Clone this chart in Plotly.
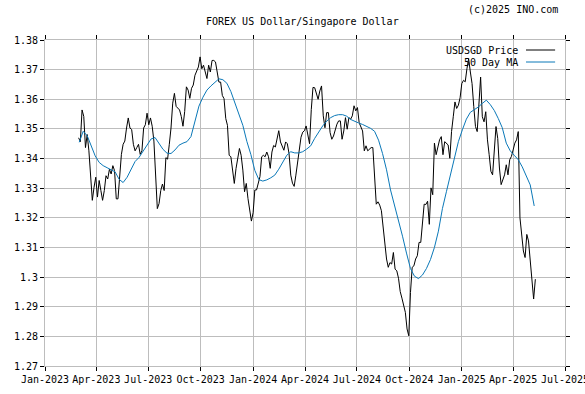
import pandas as pd
import plotly.graph_objects as go

# ---- data ----
price_start = "2023-03-01"   # one value every 3 days
price_values = [
    1.3470, 1.3457, 1.3564, 1.3542, 1.3437, 1.3481, 1.3426, 1.3348, 1.3259, 1.3303,
    1.3337, 1.3270, 1.3326, 1.3292, 1.3259, 1.3292, 1.3342, 1.3331, 1.3364, 1.3348,
    1.3376, 1.3359, 1.3264, 1.3264, 1.3337, 1.3414, 1.3448, 1.3459, 1.3503, 1.3537,
    1.3503, 1.3498, 1.3448, 1.3426, 1.3437, 1.3448, 1.3414, 1.3426, 1.3503, 1.3514,
    1.3553, 1.3514, 1.3537, 1.3509, 1.3459, 1.3359, 1.3231, 1.3248, 1.3292, 1.3314,
    1.3292, 1.3403, 1.3398, 1.3448, 1.3503, 1.3587, 1.3620, 1.3576, 1.3570, 1.3564,
    1.3542, 1.3509, 1.3559, 1.3642, 1.3631, 1.3603, 1.3637, 1.3648, 1.3681, 1.3698,
    1.3709, 1.3743, 1.3703, 1.3715, 1.3687, 1.3670, 1.3715, 1.3692, 1.3731, 1.3731,
    1.3726, 1.3687, 1.3658, 1.3658, 1.3613, 1.3602, 1.3535, 1.3512, 1.3411, 1.3406,
    1.3366, 1.3316, 1.3366, 1.3394, 1.3434, 1.3411, 1.3361, 1.3288, 1.3316, 1.3265,
    1.3231, 1.3189, 1.3217, 1.3294, 1.3294, 1.3317, 1.3339, 1.3406, 1.3411, 1.3406,
    1.3422, 1.3406, 1.3367, 1.3422, 1.3444, 1.3439, 1.3467, 1.3494, 1.3456, 1.3444,
    1.3428, 1.3456, 1.3450, 1.3417, 1.3344, 1.3317, 1.3306, 1.3344, 1.3394, 1.3433,
    1.3472, 1.3489, 1.3494, 1.3510, 1.3480, 1.3450, 1.3565, 1.3640, 1.3639, 1.3617,
    1.3600, 1.3628, 1.3645, 1.3544, 1.3504, 1.3555, 1.3555, 1.3488, 1.3465, 1.3476,
    1.3499, 1.3516, 1.3527, 1.3527, 1.3465, 1.3493, 1.3538, 1.3499, 1.3538, 1.3533,
    1.3544, 1.3578, 1.3561, 1.3572, 1.3521, 1.3504, 1.3493, 1.3426, 1.3443, 1.3426,
    1.3431, 1.3437, 1.3437, 1.3358, 1.3246, 1.3254, 1.3243, 1.3224, 1.3173, 1.3111,
    1.3061, 1.3033, 1.3049, 1.3044, 1.3083, 1.3027, 1.3021, 1.2996, 1.2951, 1.2929,
    1.2903, 1.2881, 1.2825, 1.2802, 1.2948, 1.3033, 1.3038, 1.3061, 1.3072, 1.3117,
    1.3117, 1.3190, 1.3246, 1.3245, 1.3256, 1.3178, 1.3301, 1.3278, 1.3452, 1.3413,
    1.3435, 1.3463, 1.3474, 1.3413, 1.3457, 1.3452, 1.3446, 1.3401, 1.3491, 1.3541,
    1.3591, 1.3569, 1.3580, 1.3605, 1.3653, 1.3664, 1.3659, 1.3703, 1.3737, 1.3692,
    1.3653, 1.3575, 1.3508, 1.3491, 1.3575, 1.3675, 1.3541, 1.3524, 1.3558, 1.3463,
    1.3413, 1.3357, 1.3345, 1.3440, 1.3508, 1.3468, 1.3368, 1.3312, 1.3329, 1.3345,
    1.3379, 1.3345, 1.3396, 1.3407, 1.3429, 1.3452, 1.3463, 1.3491, 1.3200, 1.3138,
    1.3088, 1.3066, 1.3144, 1.3122, 1.3055, 1.2982, 1.2926, 1.2993,
]

ma_start = "2023-03-02"      # one value every 7 days
ma_values = [
    1.3455, 1.3492, 1.3477, 1.3445, 1.3409, 1.3387, 1.3376, 1.3369, 1.3361, 1.3355,
    1.3330, 1.3319, 1.3337, 1.3364, 1.3390, 1.3404, 1.3425, 1.3445, 1.3466, 1.3471,
    1.3451, 1.3431, 1.3418, 1.3417, 1.3429, 1.3445, 1.3452, 1.3457, 1.3474, 1.3522,
    1.3577, 1.3607, 1.3631, 1.3645, 1.3658, 1.3669, 1.3666, 1.3654, 1.3626, 1.3590,
    1.3553, 1.3512, 1.3458, 1.3414, 1.3360, 1.3329, 1.3324, 1.3328, 1.3335, 1.3344,
    1.3364, 1.3387, 1.3411, 1.3423, 1.3419, 1.3419, 1.3423, 1.3432, 1.3443, 1.3468,
    1.3490, 1.3510, 1.3526, 1.3538, 1.3545, 1.3548, 1.3548, 1.3543, 1.3532, 1.3525,
    1.3520, 1.3515, 1.3509, 1.3502, 1.3492, 1.3462, 1.3417, 1.3362, 1.3294, 1.3243,
    1.3198, 1.3138, 1.3081, 1.3029, 1.3003, 1.2995, 1.3007, 1.3029, 1.3059, 1.3100,
    1.3155, 1.3231, 1.3288, 1.3345, 1.3410, 1.3457, 1.3497, 1.3533, 1.3556, 1.3565,
    1.3574, 1.3586, 1.3597, 1.3582, 1.3562, 1.3535, 1.3504, 1.3452, 1.3426, 1.3411,
    1.3396, 1.3372, 1.3342, 1.3311, 1.3240,
]

x_tick_dates = ["2023-01-01", "2023-04-01", "2023-07-01", "2023-10-01", "2024-01-01",
                "2024-04-01", "2024-07-01", "2024-10-01", "2025-01-01", "2025-04-01",
                "2025-07-01"]
x_tick_labels = ["Jan-2023", "Apr-2023", "Jul-2023", "Oct-2023", "Jan-2024", "Apr-2024",
                 "Jul-2024", "Oct-2024", "Jan-2025", "Apr-2025", "Jul-2025"]
y_tick_values = [1.27, 1.28, 1.29, 1.30, 1.31, 1.32, 1.33, 1.34, 1.35, 1.36, 1.37, 1.38]
y_tick_labels = ["1.27", "1.28", "1.29", "1.3", "1.31", "1.32", "1.33", "1.34", "1.35",
                 "1.36", "1.37", "1.38"]

series_names = ["USDSGD Price", "50 Day MA"]
series_colors = ["#000000", "#0a78b8"]

price_dates = pd.date_range(price_start, periods=len(price_values), freq="3D")
ma_dates = pd.date_range(ma_start, periods=len(ma_values), freq="7D")

FONT = "DejaVu Sans Mono"

fig = go.Figure()
fig.add_trace(go.Scatter(x=price_dates, y=price_values, mode="lines", name=series_names[0],
                         line=dict(color=series_colors[0], width=1)))
fig.add_trace(go.Scatter(x=ma_dates, y=ma_values, mode="lines", name=series_names[1],
                         line=dict(color=series_colors[1], width=1)))

axis_common = dict(
    showgrid=True, gridcolor="#bdbdbd", gridwidth=1,
    showline=True, linecolor="#bdbdbd", linewidth=1, mirror="ticks",
    ticks="outside", ticklen=4, tickcolor="#000000", tickwidth=1,
    zeroline=False, automargin=False, ticklabeloverflow="allow",
    tickfont=dict(family=FONT, size=10, color="#000000"),
)

fig.update_xaxes(range=[x_tick_dates[0], x_tick_dates[-1]], tickmode="array",
                 tickvals=x_tick_dates, ticktext=x_tick_labels, **axis_common)
fig.update_yaxes(range=[y_tick_values[0], y_tick_values[-1]], tickmode="array",
                 tickvals=y_tick_values, ticktext=y_tick_labels, **axis_common)

annotations = [
    dict(text="FOREX US Dollar/Singapore Dollar", xref="paper", yref="paper",
         x=0.496, y=1.058, xanchor="center", yanchor="middle", showarrow=False,
         font=dict(family=FONT, size=10, color="#000000")),
    dict(text="(c)2025 INO.com", xref="paper", yref="paper",
         x=0.990, y=1.095, xanchor="right", yanchor="middle", showarrow=False,
         font=dict(family=FONT, size=10, color="#000000")),
]
shapes = []
legend_y = [0.9693, 0.9325]
for name, color, ly in zip(series_names, series_colors, legend_y):
    annotations.append(dict(text=name, xref="paper", yref="paper", x=0.9135, y=ly,
                            xanchor="right", yanchor="middle", showarrow=False,
                            font=dict(family=FONT, size=10, color="#000000")))
    shapes.append(dict(type="line", xref="paper", yref="paper", x0=0.925, x1=0.981,
                       y0=ly, y1=ly, line=dict(color=color, width=1)))

fig.update_layout(
    width=585, height=394,
    margin=dict(l=45, r=20, t=40, b=28, autoexpand=False),
    paper_bgcolor="#ffffff", plot_bgcolor="#ffffff",
    showlegend=False,
    font=dict(family=FONT, size=10, color="#000000"),
    annotations=annotations, shapes=shapes,
)

fig.write_html(
    "out.html",
    config={"displayModeBar": False},
    post_script="document.body.style.margin='0';document.body.style.overflow='hidden';",
)
